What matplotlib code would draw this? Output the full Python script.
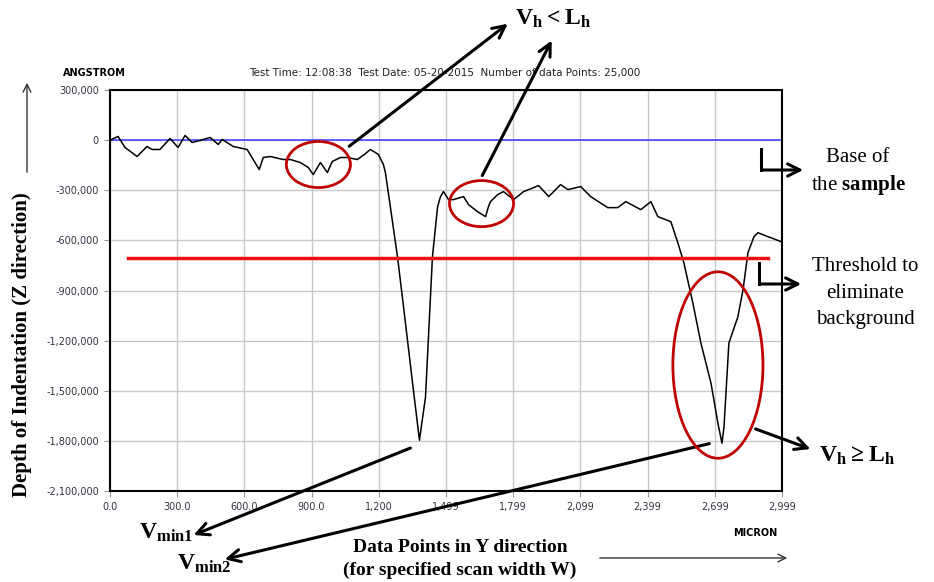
import matplotlib.pyplot as plt
from matplotlib.patches import Ellipse
from matplotlib.lines import Line2D

plt.rcParams['mathtext.fontset'] = 'custom'
plt.rcParams['mathtext.rm'] = 'Liberation Serif'
plt.rcParams['mathtext.bf'] = 'Liberation Serif:bold'

# scan profile (micron, angstrom)
pos_x = [0, 36, 67, 121, 165, 188, 223, 268, 304, 335, 366, 402, 447, 483, 501,
         550, 612, 639, 666, 684, 715, 773, 805, 849, 885, 907, 939, 970, 992,
         1028, 1059, 1104, 1135, 1162, 1198, 1220, 1229, 1251, 1283, 1310, 1354,
         1381, 1408, 1439, 1462, 1475, 1488, 1511, 1533, 1578, 1600, 1640, 1676,
         1689, 1698, 1730, 1756, 1801, 1846, 1913, 1958, 2011, 2043, 2101, 2145,
         2221, 2266, 2302, 2369, 2414, 2445, 2503, 2534, 2561, 2601, 2637, 2682,
         2713, 2731, 2740, 2762, 2802, 2825, 2847, 2874, 2892, 2936, 2950, 2995]
depth = [0, 22000, -44000, -98000, -38000, -56000, -56000, 10000, -44000, 28000,
         -14000, -2000, 16000, -26000, 4000, -38000, -56000, -116000, -176000,
         -104000, -98000, -116000, -116000, -134000, -164000, -206000, -134000,
         -194000, -128000, -104000, -104000, -116000, -86000, -56000, -86000,
         -146000, -194000, -398000, -698000, -998000, -1496000, -1796000,
         -1538000, -698000, -398000, -338000, -308000, -356000, -356000, -338000,
         -386000, -428000, -458000, -398000, -368000, -326000, -308000, -356000,
         -308000, -272000, -338000, -266000, -296000, -278000, -338000, -404000,
         -404000, -368000, -416000, -368000, -458000, -488000, -614000, -734000,
         -974000, -1214000, -1454000, -1694000, -1814000, -1718000, -1214000,
         -1058000, -896000, -674000, -578000, -554000, -578000, -584000, -608000]

base_level = 0
threshold = -706000
threshold_x = [80, 2937]

# red circles: (center x, center y, width, height) in data units
circles = [(930, -146000, 286, 276000),
           (1658, -380000, 286, 276000),
           (2713, -1346000, 402, 1116000)]

xtick_pos = [0, 299.9, 599.8, 899.7, 1199.6, 1499.5, 1799.4, 2099.3, 2399.2, 2699.1, 2999]
xtick_labels = ['0.0', '300.0', '600.0', '900.0', '1,200', '1,499', '1,799',
                '2,099', '2,399', '2,699', '2,999']
ytick_pos = [300000, 0, -300000, -600000, -900000, -1200000, -1500000, -1800000, -2100000]
ytick_labels = ['{:,}'.format(v) for v in ytick_pos]

W, H = 934, 582


def fp(x, y):
    # pixel position (from top-left) to figure fraction
    return (x / W, 1 - y / H)


fig = plt.figure(figsize=(9.34, 5.82), dpi=100)
ax = fig.add_axes([110 / W, 1 - 491 / H, 672 / W, 401 / H])

ax.plot(pos_x, depth, color='black', lw=1.1, zorder=3)
ax.axhline(base_level, color='#3a3aff', lw=1.1, zorder=2)
ax.plot(threshold_x, [threshold, threshold], color='#ee1111', lw=2.5, zorder=4)

for cx, cy, w, h in circles:
    ax.add_patch(Ellipse((cx, cy), w, h, fill=False, edgecolor='#c00000',
                         lw=2, zorder=5, clip_on=False))

ax.set_xlim(0, 2999)
ax.set_ylim(-2100000, 300000)
ax.set_xticks(xtick_pos)
ax.set_xticklabels(xtick_labels)
ax.set_yticks(ytick_pos)
ax.set_yticklabels(ytick_labels)
ax.tick_params(direction='out', length=4, color='#999999', labelsize=7,
               labelcolor='#333344', pad=4)
ax.grid(color='#c8c8c8', lw=1)
ax.set_axisbelow(True)
for s in ax.spines.values():
    s.set_linewidth(1.5)

# header texts
fig.text(*fp(94, 73), 'ANGSTROM', fontsize=7, fontweight='bold', ha='center', va='center')
fig.text(*fp(445, 73), 'Test Time: 12:08:38  Test Date: 05-20-2015  Number of data Points: 25,000',
         fontsize=7.5, ha='center', va='center', color='#222222')
fig.text(*fp(755, 533), 'MICRON', fontsize=7, fontweight='bold', ha='center', va='center')

serif = 'Liberation Serif'
fig.text(*fp(22, 345), 'Depth of Indentation (Z direction)', rotation=90, family=serif,
         fontsize=15, fontweight='bold', ha='center', va='center')
fig.text(*fp(460, 548), 'Data Points in Y direction', family=serif, fontsize=14,
         fontweight='bold', ha='center', va='center')
fig.text(*fp(460, 570), '(for specified scan width W)', family=serif, fontsize=14,
         fontweight='bold', ha='center', va='center')

arrow_thin = dict(arrowstyle='->', lw=1, color='#333333', mutation_scale=14)
ax.annotate('', xy=fp(790, 558), xytext=fp(597, 558), xycoords='figure fraction',
            textcoords='figure fraction', arrowprops=arrow_thin, annotation_clip=False)
ax.annotate('', xy=fp(27, 80), xytext=fp(27, 175), xycoords='figure fraction',
            textcoords='figure fraction', arrowprops=arrow_thin, annotation_clip=False)

arrow_bold = dict(arrowstyle='->', lw=2.2, color='black', mutation_scale=22)


def arrow(x0, y0, x1, y1):
    ax.annotate('', xy=fp(x1, y1), xytext=fp(x0, y0), xycoords='figure fraction',
                textcoords='figure fraction', arrowprops=arrow_bold, annotation_clip=False)


# V_h < L_h
arrow(347, 148, 510, 22)
arrow(481, 178, 553, 38)
fig.text(*fp(553, 18), r'$\mathbf{V_h < L_h}$', fontsize=17, ha='center', va='center')

# base of the sample
fig.add_artist(Line2D([761 / W, 761 / W], [1 - 149 / H, 1 - 170 / H], color='black', lw=2.2))
arrow(760, 170, 806, 170)
fig.text(*fp(858, 158), 'Base of', family=serif, fontsize=15, ha='center', va='center')
fig.text(*fp(858, 185), 'the $\\mathbf{sample}$', family=serif, fontsize=15, ha='center', va='center')

# threshold
fig.add_artist(Line2D([759 / W, 759 / W], [1 - 263 / H, 1 - 284 / H], color='black', lw=2.2))
arrow(758, 284, 804, 284)
fig.text(*fp(865, 267), 'Threshold to', family=serif, fontsize=15, ha='center', va='center')
fig.text(*fp(865, 293), 'eliminate', family=serif, fontsize=15, ha='center', va='center')
fig.text(*fp(865, 319), 'background', family=serif, fontsize=15, ha='center', va='center')

# V_h >= L_h
arrow(753, 428, 813, 450)
fig.text(*fp(857, 455), r'$\mathbf{V_h \geq L_h}$', fontsize=17, ha='center', va='center')

# minima
arrow(413, 447, 191, 536)
fig.text(*fp(166, 532), r'$\mathbf{V_{min1}}$', fontsize=17, ha='center', va='center')
arrow(712, 443, 222, 560)
fig.text(*fp(204, 563), r'$\mathbf{V_{min2}}$', fontsize=17, ha='center', va='center')

plt.savefig('out.png', dpi=100)
